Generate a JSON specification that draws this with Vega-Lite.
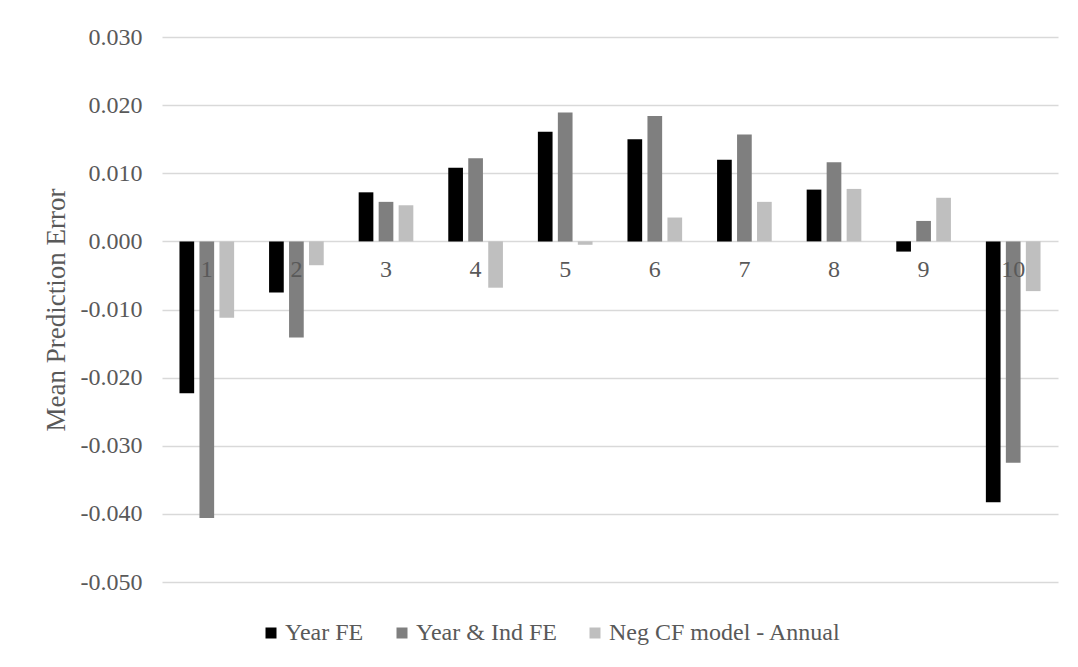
{
  "$schema": "https://vega.github.io/schema/vega-lite/v6.json",
  "width": 896,
  "height": 545,
  "autosize": {"type": "none"},
  "padding": {"left": 162, "top": 37, "right": 20, "bottom": 85},
  "background": "white",
  "config": {
    "view": {"stroke": null},
    "font": "Liberation Serif"
  },
  "datasets": {
    "errors": [
      {"decile": 1, "series": "Year FE", "mpe": -0.0223},
      {"decile": 1, "series": "Year & Ind FE", "mpe": -0.0406},
      {"decile": 1, "series": "Neg CF model - Annual", "mpe": -0.0112},
      {"decile": 2, "series": "Year FE", "mpe": -0.0075},
      {"decile": 2, "series": "Year & Ind FE", "mpe": -0.0141},
      {"decile": 2, "series": "Neg CF model - Annual", "mpe": -0.0035},
      {"decile": 3, "series": "Year FE", "mpe": 0.0072},
      {"decile": 3, "series": "Year & Ind FE", "mpe": 0.0058},
      {"decile": 3, "series": "Neg CF model - Annual", "mpe": 0.0053},
      {"decile": 4, "series": "Year FE", "mpe": 0.0108},
      {"decile": 4, "series": "Year & Ind FE", "mpe": 0.0122},
      {"decile": 4, "series": "Neg CF model - Annual", "mpe": -0.0068},
      {"decile": 5, "series": "Year FE", "mpe": 0.0161},
      {"decile": 5, "series": "Year & Ind FE", "mpe": 0.0189},
      {"decile": 5, "series": "Neg CF model - Annual", "mpe": -0.0005},
      {"decile": 6, "series": "Year FE", "mpe": 0.0150},
      {"decile": 6, "series": "Year & Ind FE", "mpe": 0.0184},
      {"decile": 6, "series": "Neg CF model - Annual", "mpe": 0.0035},
      {"decile": 7, "series": "Year FE", "mpe": 0.0120},
      {"decile": 7, "series": "Year & Ind FE", "mpe": 0.0157},
      {"decile": 7, "series": "Neg CF model - Annual", "mpe": 0.0058},
      {"decile": 8, "series": "Year FE", "mpe": 0.0076},
      {"decile": 8, "series": "Year & Ind FE", "mpe": 0.0116},
      {"decile": 8, "series": "Neg CF model - Annual", "mpe": 0.0077},
      {"decile": 9, "series": "Year FE", "mpe": -0.0015},
      {"decile": 9, "series": "Year & Ind FE", "mpe": 0.0030},
      {"decile": 9, "series": "Neg CF model - Annual", "mpe": 0.0064},
      {"decile": 10, "series": "Year FE", "mpe": -0.0383},
      {"decile": 10, "series": "Year & Ind FE", "mpe": -0.0325},
      {"decile": 10, "series": "Neg CF model - Annual", "mpe": -0.0073}
    ]
  },
  "data": {"name": "errors"},
  "encoding": {
    "x": {
      "field": "decile",
      "type": "ordinal",
      "scale": {"paddingInner": 0.39, "paddingOuter": 0.195},
      "axis": null
    }
  },
  "layer": [
    {
      "mark": {"type": "bar"},
      "encoding": {
        "xOffset": {
          "field": "series",
          "type": "nominal",
          "sort": ["Year FE", "Year & Ind FE", "Neg CF model - Annual"],
          "scale": {"paddingInner": 0.265, "paddingOuter": 0}
        },
        "y": {
          "field": "mpe",
          "type": "quantitative",
          "scale": {"domain": [-0.05, 0.03], "nice": false},
          "axis": {
            "title": "Mean Prediction Error",
            "values": [-0.05, -0.04, -0.03, -0.02, -0.01, 0, 0.01, 0.02, 0.03],
            "labelExpr": "replace(format(datum.value, '.3f'), '\u2212', '-')",
            "grid": true,
            "gridColor": "#d9d9d9",
            "gridWidth": 1.5,
            "domain": false,
            "ticks": false,
            "labelPadding": 20,
            "labelFontSize": 24,
            "labelColor": "#595959",
            "labelFont": "Liberation Serif",
            "titleFont": "Liberation Serif",
            "titleFontSize": 27,
            "titleColor": "#595959",
            "titleFontWeight": "normal",
            "titlePadding": 10
          }
        },
        "color": {
          "field": "series",
          "type": "nominal",
          "scale": {
            "domain": ["Year FE", "Year & Ind FE", "Neg CF model - Annual"],
            "range": ["#000000", "#7f7f7f", "#bfbfbf"]
          },
          "legend": {
            "title": null,
            "orient": "none",
            "direction": "horizontal",
            "legendX": 97,
            "legendY": 584,
            "symbolType": "square",
            "symbolSize": 121,
            "symbolStrokeWidth": 0,
            "symbolOpacity": 1,
            "labelFont": "Liberation Serif",
            "labelFontSize": 24,
            "labelColor": "#595959",
            "labelOffset": 2,
            "labelLimit": 400,
            "columnPadding": 26
          }
        }
      }
    },
    {
      "transform": [{"filter": "datum.series === 'Year FE'"}],
      "mark": {
        "type": "text",
        "baseline": "alphabetic",
        "align": "center",
        "dy": 36,
        "font": "Liberation Serif",
        "fontSize": 24,
        "color": "#595959"
      },
      "encoding": {
        "y": {"datum": 0},
        "text": {"field": "decile", "type": "ordinal"}
      }
    }
  ]
}
